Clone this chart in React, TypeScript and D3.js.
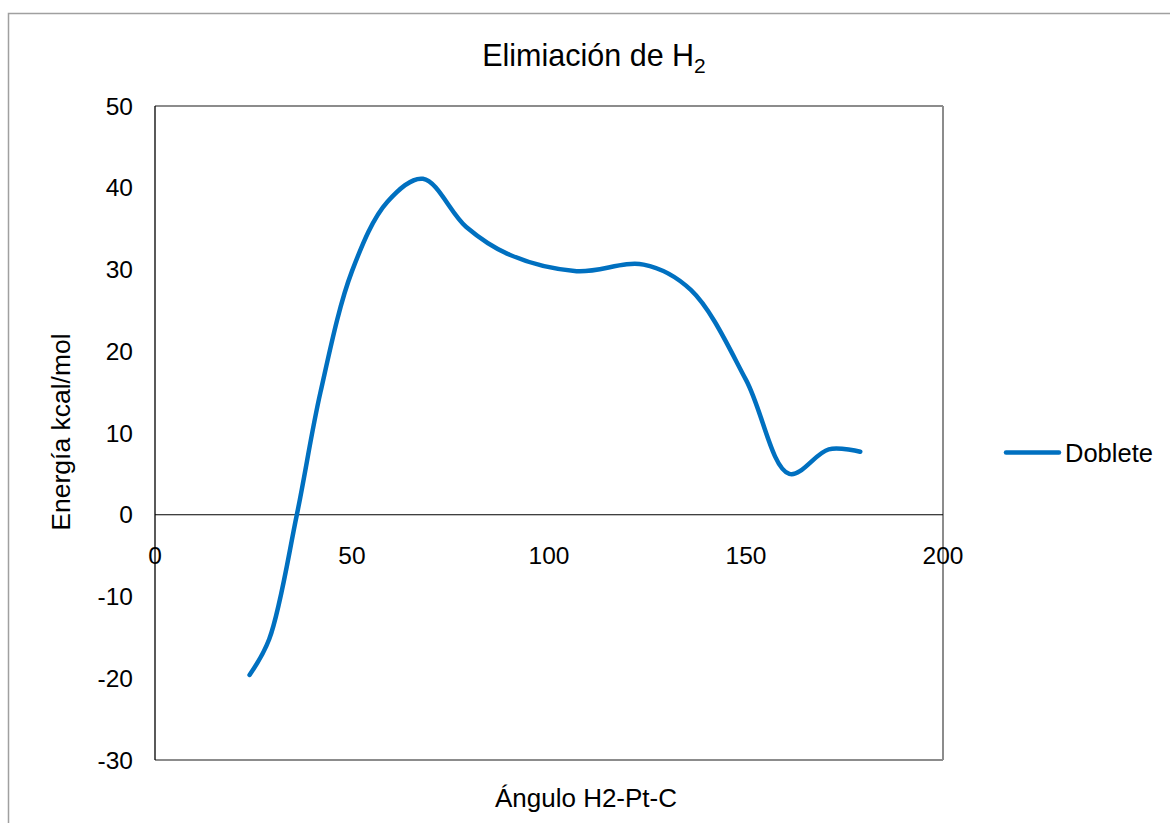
import React from "react";
import * as d3 from "d3";

const angles = [24, 29, 36, 42, 50, 59, 68, 79, 90, 107, 124, 136, 150, 161, 171, 179];
const energies = [-19.6, -15.2, 0, 15.0, 29.8, 38.3, 41.1, 35.2, 31.8, 29.8, 30.6, 27.5, 16.5, 5.0, 8.0, 7.7];
const xTicks = [0, 50, 100, 150, 200];
const yTicks = [-30, -20, -10, 0, 10, 20, 30, 40, 50];
const seriesName = "Doblete";
const titleMain = "Elimiación de H";
const titleSub = "2";
const xTitle = "Ángulo H2-Pt-C";
const yTitle = "Energía kcal/mol";

export default function App() {
  const W = 1170, H = 823;
  const left = 155, right = 943, top = 106, bottom = 760;
  const x = d3.scaleLinear().domain([0, 200]).range([left, right]);
  const y = d3.scaleLinear().domain([-30, 50]).range([bottom, top]);
  const pts = angles.map((a, i) => [a, energies[i]] as [number, number]);
  const line = d3
    .line<[number, number]>()
    .x((d) => x(d[0]))
    .y((d) => y(d[1]))
    .curve(d3.curveCatmullRom.alpha(0.5));
  const color = "#0070C0";
  const font = "Liberation Sans, Arial, sans-serif";
  return (
    <svg
      width={W}
      height={H}
      style={{ position: "absolute", left: 0, top: 0, background: "#fff" }}
      fontFamily={font}
    >
      <rect x={8.5} y={13.5} width={1300} height={900} fill="#fff" stroke="#a0a0a0" strokeWidth={1.5} />
      <line x1={left} x2={right} y1={top} y2={top} stroke="#8c8c8c" strokeWidth={2} />
      <line x1={right} x2={right} y1={top} y2={bottom} stroke="#8c8c8c" strokeWidth={2} />
      <line x1={left} x2={right} y1={bottom} y2={bottom} stroke="#8c8c8c" strokeWidth={2} />
      <line x1={left} x2={left} y1={top} y2={bottom} stroke="#000" strokeWidth={1.3} />
      <line x1={left} x2={right} y1={y(0)} y2={y(0)} stroke="#000" strokeWidth={1} />
      {yTicks.map((t) => (
        <text key={"y" + t} x={133} y={y(t)} dy="0.35em" textAnchor="end" fontSize={24.5} fill="#000">
          {t}
        </text>
      ))}
      {xTicks.map((t) => (
        <text key={"x" + t} x={x(t)} y={y(0) + 49} textAnchor="middle" fontSize={24.5} fill="#000">
          {t}
        </text>
      ))}
      <path d={line(pts) || ""} fill="none" stroke={color} strokeWidth={4.5} strokeLinecap="round" strokeLinejoin="round" />
      <text x={594} y={66} textAnchor="middle" fontSize={30.5} fill="#000">
        {titleMain}
        <tspan fontSize={21} dy={7}>{titleSub}</tspan>
      </text>
      <text x={586} y={807} textAnchor="middle" fontSize={26} fill="#000">
        {xTitle}
      </text>
      <text transform={`translate(70, 432) rotate(-90)`} textAnchor="middle" fontSize={26.5} fill="#000">
        {yTitle}
      </text>
      <line x1={1006} x2={1059} y1={452.5} y2={452.5} stroke={color} strokeWidth={4.5} strokeLinecap="round" />
      <text x={1065} y={453} dy="0.35em" fontSize={25.5} fill="#000">
        {seriesName}
      </text>
    </svg>
  );
}
